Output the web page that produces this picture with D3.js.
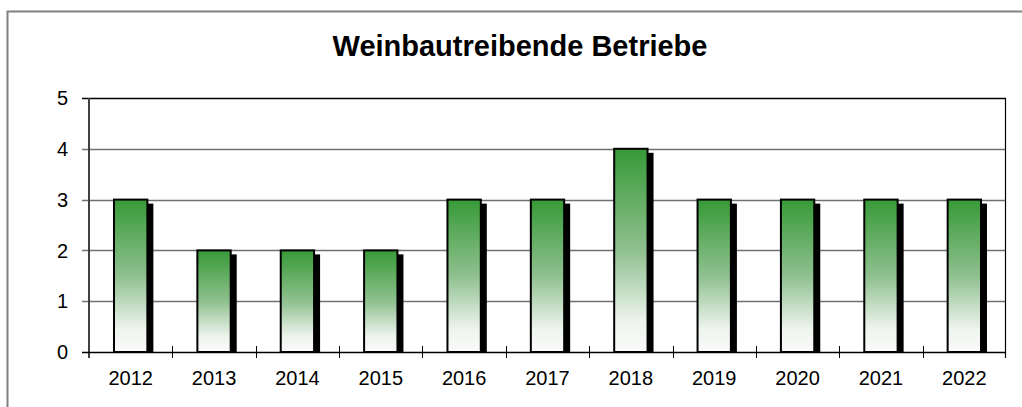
<!DOCTYPE html>
<html>
<head>
<meta charset="utf-8">
<script src="https://cdn.jsdelivr.net/npm/d3@7"></script>
<style>
  html, body { margin: 0; padding: 0; background: #fff; }
  svg { display: block; }
</style>
</head>
<body>
<div id="chart"></div>
<script>
// data
const years = ["2012", "2013", "2014", "2015", "2016", "2017", "2018", "2019", "2020", "2021", "2022"];
const betriebe = [3, 2, 2, 2, 3, 3, 4, 3, 3, 3, 3];
const yTicks = [0, 1, 2, 3, 4, 5];
const title = "Weinbautreibende Betriebe";

const width = 1022, height = 407;
const plot = { left: 89, right: 1006, top: 98, bottom: 352 };

const svg = d3.select("#chart").append("svg")
    .attr("width", width)
    .attr("height", height)
    .style("font-family", "Arial, 'Liberation Sans', sans-serif");

// outer frame (runs off the right and bottom edge)
svg.append("rect")
    .attr("x", 7.5).attr("y", 11.5)
    .attr("width", 1040).attr("height", 420)
    .attr("fill", "none")
    .attr("stroke", "#808080")
    .attr("stroke-width", 2);

svg.append("text")
    .attr("x", 520).attr("y", 56)
    .attr("text-anchor", "middle")
    .style("font-size", "29px")
    .style("font-weight", "bold")
    .text(title);

const x = d3.scaleBand().domain(years).range([plot.left, plot.right]).padding(0);
const y = d3.scaleLinear().domain([0, 5]).range([plot.bottom, plot.top]);

// gradient for the bars
const defs = svg.append("defs");
const grad = defs.append("linearGradient")
    .attr("id", "barGrad")
    .attr("x1", 0).attr("y1", 0).attr("x2", 0).attr("y2", 1);
grad.append("stop").attr("offset", "0%").attr("stop-color", "#379a37");
grad.append("stop").attr("offset", "50%").attr("stop-color", "#8fc08f");
grad.append("stop").attr("offset", "85%").attr("stop-color", "#eef4ee");
grad.append("stop").attr("offset", "100%").attr("stop-color", "#fafafa");

defs.append("clipPath").attr("id", "plotClip")
  .append("rect")
    .attr("x", plot.left).attr("y", 0)
    .attr("width", width).attr("height", plot.bottom + 1);

// gridlines + y ticks
svg.append("g")
  .selectAll("line")
  .data(yTicks.filter(d => d > 0))
  .join("line")
    .attr("x1", plot.left - 7).attr("x2", plot.right)
    .attr("y1", d => Math.round(y(d)) + 0.5).attr("y2", d => Math.round(y(d)) + 0.5)
    .attr("stroke", d => d === 5 ? "#000" : "#707070")
    .attr("stroke-width", 1.5);

// right border of plot area
svg.append("line")
    .attr("x1", plot.right - 0.5).attr("x2", plot.right - 0.5)
    .attr("y1", plot.top).attr("y2", plot.bottom + 6)
    .attr("stroke", "#000").attr("stroke-width", 1.2);

// y labels
svg.append("g")
  .selectAll("text")
  .data(yTicks)
  .join("text")
    .attr("x", 68)
    .attr("y", d => y(d))
    .attr("dy", "0.36em")
    .attr("text-anchor", "end")
    .style("font-size", "20px")
    .text(d => d);

// bars with drop shadow
const bars = svg.append("g");
const bw = x.bandwidth() * 0.4;
bars.selectAll("rect.shadow")
  .data(betriebe)
  .join("rect")
    .attr("class", "shadow")
    .attr("clip-path", "url(#plotClip)")
    .attr("x", (d, i) => x(years[i]) + (x.bandwidth() - bw) / 2 + 6)
    .attr("y", d => y(d) + 4)
    .attr("width", bw)
    .attr("height", d => y(0) - y(d))
    .attr("fill", "#000");

bars.selectAll("rect.bar")
  .data(betriebe)
  .join("rect")
    .attr("class", "bar")
    .attr("x", (d, i) => x(years[i]) + (x.bandwidth() - bw) / 2)
    .attr("y", d => y(d))
    .attr("width", bw)
    .attr("height", d => y(0) - y(d))
    .attr("fill", "url(#barGrad)")
    .attr("stroke", "#000")
    .attr("stroke-width", 2);

// y axis line
svg.append("line")
    .attr("x1", plot.left).attr("x2", plot.left)
    .attr("y1", plot.top).attr("y2", plot.bottom + 6)
    .attr("stroke", "#404040").attr("stroke-width", 2);

// x axis line
svg.append("line")
    .attr("x1", plot.left - 7).attr("x2", plot.right)
    .attr("y1", plot.bottom + 0.5).attr("y2", plot.bottom + 0.5)
    .attr("stroke", "#000").attr("stroke-width", 1.5);

// x ticks at band boundaries
svg.append("g")
  .selectAll("line")
  .data(years.slice(1))
  .join("line")
    .attr("x1", d => Math.round(x(d)) + 0.5).attr("x2", d => Math.round(x(d)) + 0.5)
    .attr("y1", plot.bottom - 6).attr("y2", plot.bottom + 6)
    .attr("stroke", "#000").attr("stroke-width", 1);

// x labels
svg.append("g")
  .selectAll("text")
  .data(years)
  .join("text")
    .attr("x", d => x(d) + x.bandwidth() / 2)
    .attr("y", 385)
    .attr("text-anchor", "middle")
    .style("font-size", "20px")
    .text(d => d);
</script>
</body>
</html>
